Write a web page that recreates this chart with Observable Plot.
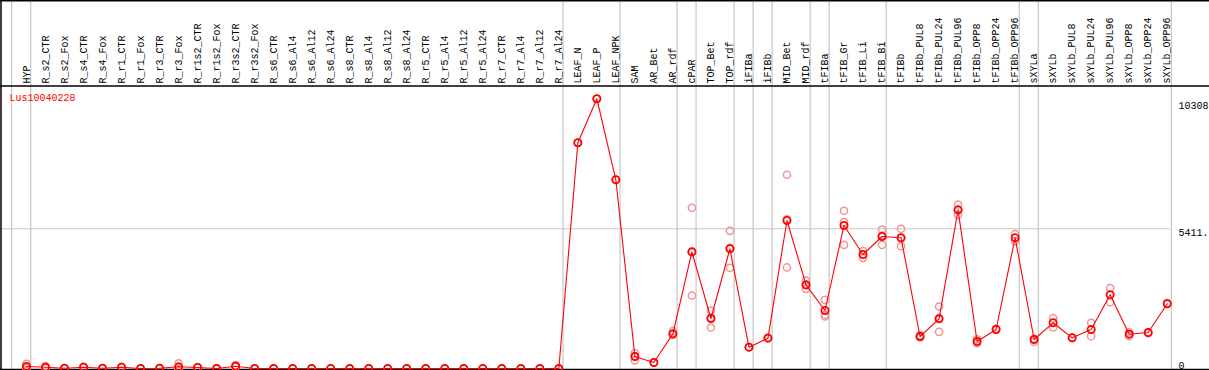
<!DOCTYPE html>
<html>
<head>
<meta charset="utf-8">
<script src="https://cdn.jsdelivr.net/npm/d3@7"></script>
<script src="https://cdn.jsdelivr.net/npm/@observablehq/plot@0.6"></script>
<style>
  html, body { margin: 0; padding: 0; background: #fff; }
  #chart svg { display: block; }
</style>
</head>
<body>
<div id="chart"></div>
<script>
const geneId = "Lus10040228";

const groups = [
  ["HYP"],
  ["R_s2_CTR","R_s2_Fox","R_s4_CTR","R_s4_Fox","R_r1_CTR","R_r1_Fox","R_r3_CTR","R_r3_Fox",
   "R_r1s2_CTR","R_r1s2_Fox","R_r3s2_CTR","R_r3s2_Fox","R_s6_CTR","R_s6_Al4","R_s6_Al12","R_s6_Al24",
   "R_s8_CTR","R_s8_Al4","R_s8_Al12","R_s8_Al24","R_r5_CTR","R_r5_Al4","R_r5_Al12","R_r5_Al24",
   "R_r7_CTR","R_r7_Al4","R_r7_Al12","R_r7_Al24"],
  ["LEAF_N","LEAF_P","LEAF_NPK"],
  ["SAM","AR_Bet","AR_rdf"],
  ["cPAR"],
  ["TOP_Bet","TOP_rdf"],
  ["iFIBa"],
  ["iFIBb"],
  ["MID_Bet","MID_rdf"],
  ["tFIBa"],
  ["tFIB_Gr","tFIB_Li","tFIB_Bi"],
  ["tFIBb","tFIBb_PUL8","tFIBb_PUL24","tFIBb_PUL96","tFIBb_OPP8","tFIBb_OPP24","tFIBb_OPP96"],
  ["sXYLa"],
  ["sXYLb","sXYLb_PUL8","sXYLb_PUL24","sXYLb_PUL96","sXYLb_OPP8","sXYLb_OPP24","sXYLb_OPP96"]
];
const categories = groups.flat();

const means = [
  80, 50, 10, 50, 10, 50, 0, 10, 65, 40, 0, 90, 0,
  0, 0, 0, 0, 0, 0, 0, 0, 0, 0, 0, 0, 0, 0, 0, 0,
  8741, 10445, 7308,
  465, 232, 1343,
  4519,
  1936, 4635,
  826,
  1175,
  5732, 3240,
  2246,
  5538, 4415, 5112,
  5061, 1239, 1923, 6145, 1046, 1510, 5061,
  1123,
  1770, 1188, 1510, 2854, 1329, 1394, 2506
];

const replicates = [
  [180, 40, 20], [90, 40, 20], [10], [60], [10], [60], [0], [10], [200, 0, 0], [40], [0], [130, 80, 60], [0],
  [0], [0], [0], [0], [0], [0], [0], [0], [0], [0], [0], [0], [0], [0], [0], [0],
  [8741], [10445], [7308],
  [593, 310, 480], [240], [1445, 1300],
  [6223, 2827, 4500],
  [2246, 1588, 1970], [5332, 3900, 4670],
  [826],
  [1200],
  [7502, 3912, 5780], [3408, 3085, 3230],
  [2660, 2014, 2080],
  [6107, 5667, 4790], [4544, 4286], [5383, 4790, 5150],
  [5410, 4738, 5050], [1290, 1200], [2401, 1420, 1950], [6351, 5951, 6130], [1130, 980], [1540], [5203, 4932],
  [1160, 1040],
  [1949, 1588], [1188], [1770, 1251], [3110, 2568], [1400, 1250], [1370], [2530]
];

const axisTicks = [0, 5411, 10308];
const axisTickLabels = ["0", "5411.", "10308"];

// group separators (just after the last column of each group, and one before the first)
const separators = [-1];
{ let n = 0; for (const g of groups) { n += g.length; separators.push(n - 1); } }

const repPoints = replicates.flatMap((vals, i) => vals.map(v => ({i, v})));
const meanPoints = means.map((v, i) => ({i, v}));

const grid = "#c6c6c6";
const chart = Plot.plot({
  width: 1209,
  height: 370,
  marginTop: 0,
  marginLeft: 0,
  marginRight: 0,
  marginBottom: 1,
  style: {fontFamily: "'Liberation Mono', 'DejaVu Sans Mono', monospace", fontSize: "10px", background: "#fff", color: "#000"},
  x: {type: "linear", domain: [0, categories.length - 1], range: [26, 1166.7], axis: null},
  y: {type: "linear", domain: [0, 10308], range: [368, 101.8], axis: null},
  marks: [
    Plot.ruleX(separators, {x: d => d + 0.22, stroke: grid, strokeWidth: 1.2}),
    Plot.ruleY([axisTicks[1]], {stroke: grid, strokeWidth: 1.2, insetRight: 39}),
    Plot.frame({anchor: "top", stroke: "#000", strokeWidth: 2}),
    Plot.frame({anchor: "top", insetTop: 85.5, stroke: "#000", strokeWidth: 1.5}),
    Plot.frame({anchor: "left", insetLeft: 0.5, stroke: "#000", strokeWidth: 1.5}),
    Plot.ruleY([0], {stroke: "#000", strokeWidth: 1.5, dy: 1}),
    Plot.text(categories, {
      x: (d, i) => i, text: d => d, frameAnchor: "top", dy: 83,
      rotate: -90, textAnchor: "start", lineAnchor: "middle", fill: "#000"
    }),
    Plot.text([geneId], {frameAnchor: "top-left", dx: 9, dy: 97, textAnchor: "start", lineAnchor: "middle", fill: "#ff0000"}),
    Plot.text(axisTicks.slice(1), {
      y: d => d, text: (d, i) => axisTickLabels[i + 1], frameAnchor: "right", dx: -31,
      textAnchor: "start", lineAnchor: "top", fill: "#000"
    }),
    Plot.text(axisTicks.slice(0, 1), {
      y: d => d, text: (d, i) => axisTickLabels[i], frameAnchor: "right", dx: -31,
      textAnchor: "start", lineAnchor: "bottom", fill: "#000"
    }),
    Plot.dot(repPoints, {x: "i", y: "v", r: 3.6, stroke: "#f09494", strokeWidth: 1.5, fill: "none"}),
    Plot.line(meanPoints, {x: "i", y: "v", stroke: "#ff0000", strokeWidth: 1.1}),
    Plot.dot(meanPoints, {x: "i", y: "v", r: 3.6, stroke: "#ff0000", strokeWidth: 1.8, fill: "none"})
  ]
});
document.getElementById("chart").appendChild(chart);
</script>
</body>
</html>
